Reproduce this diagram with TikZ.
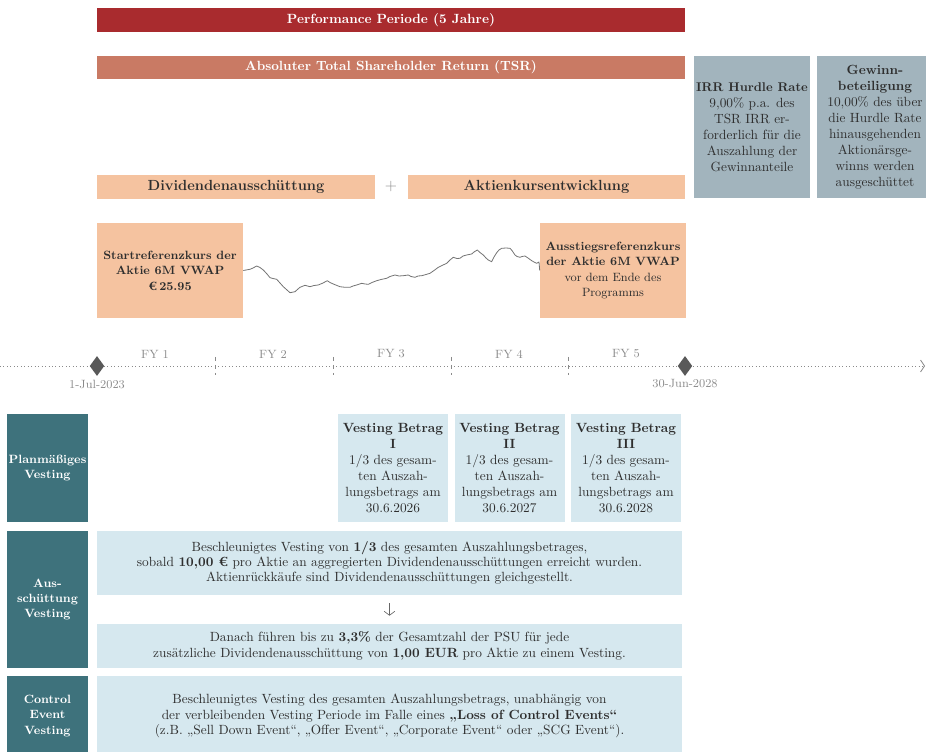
\documentclass[tikz,border=0pt]{standalone}
\usepackage{tikz}
\usetikzlibrary{positioning, shapes.geometric, arrows.meta}

\definecolor{perfred}{HTML}{A92B2E}
\definecolor{tsrred}{HTML}{C97A64}
\definecolor{peach}{HTML}{F5C3A0}
\definecolor{hurdlegrey}{HTML}{A2B4BD}
\definecolor{vestteal}{HTML}{3E727C}
\definecolor{vestblue}{HTML}{D6E8EF}
\definecolor{inktext}{HTML}{2E2E2E}
\definecolor{axisgrey}{HTML}{8A8A8A}

\begin{document}
\begin{tikzpicture}[
  x=0.75pt,
  y=-0.75pt,
  periodbar/.style={
    rectangle,
    inner sep=0pt,
    minimum width=441pt,
    minimum height=18pt,
    text=white,
    font=\fontsize{10}{11}\selectfont\bfseries,
  },
  partbox/.style={
    rectangle,
    fill=peach,
    inner sep=0pt,
    minimum width=208pt,
    minimum height=18pt,
    text=inktext,
    font=\fontsize{11}{12}\selectfont\bfseries,
  },
  pricebox/.style={
    rectangle,
    fill=peach,
    inner sep=0pt,
    minimum width=109.5pt,
    minimum height=71.25pt,
    align=center,
    text=inktext,
    font=\fontsize{9}{11.6}\selectfont,
  },
  hurdle/.style={
    rectangle,
    fill=hurdlegrey,
    inner sep=0pt,
    minimum width=87pt,
    minimum height=106.5pt,
    align=center,
    text=inktext,
    font=\fontsize{10}{12}\selectfont,
  },
  rowlabel/.style={
    rectangle,
    fill=vestteal,
    inner sep=0pt,
    minimum width=60.75pt,
    align=center,
    text=white,
    font=\fontsize{9}{11.5}\selectfont\bfseries,
  },
  tranche/.style={
    rectangle,
    fill=vestblue,
    inner sep=0pt,
    minimum width=82.5pt,
    minimum height=81pt,
    align=center,
    text=inktext,
    font=\fontsize{10}{12}\selectfont,
  },
  rulebox/.style={
    rectangle,
    fill=vestblue,
    inner sep=0pt,
    minimum width=438.75pt,
    align=center,
    text=inktext,
    font=\fontsize{10}{11.5}\selectfont,
  },
  milestone/.style={
    diamond,
    fill=black!65,
    inner sep=0pt,
    minimum width=11pt,
    minimum height=15pt,
  },
  axislabel/.style={
    text=axisgrey,
    font=\fontsize{9}{10}\selectfont,
  },
]
\useasboundingbox (0,0) rectangle (926,752);
\clip (0,0) rectangle (926,752);

% TSR
\node[periodbar, fill=perfred] (perf) at (391,20) {Performance Periode (5 Jahre)};
\node[periodbar, fill=tsrred, minimum height=17.25pt] (tsr) at (391,67.5) {Absoluter Total Shareholder Return (TSR)};
\node[partbox] (div) at (236,187) {Dividendenausschüttung};
\node[text=axisgrey, font=\large] (plus) at (391,187) {+};
\node[partbox] (kurs) at (546.5,187) {Aktienkursentwicklung};

\node[hurdle] (irr) at (752,127) {{\fontsize{9.5}{12}\selectfont\textbf{IRR Hurdle Rate}}\\9,00\% p.a. des\\TSR IRR er-\\forderlich für die\\Auszahlung der\\Gewinnanteile};
\node[hurdle] (gewinn) at (875,127) {\textbf{Gewinn-}\\\textbf{beteiligung}\\10,00\% des über\\die Hurdle Rate\\hinausgehenden\\Aktionärsge-\\winns werden\\ausgeschüttet};

% Kursverlauf
\node[pricebox] (start) at (170,270.5) {\textbf{Startreferenzkurs der}\\\textbf{Aktie 6M VWAP}\\\textbf{€\,25.95}};
\node[pricebox] (exit) at (613,270.5) {\textbf{Ausstiegsreferenzkurs}\\\textbf{der Aktie 6M VWAP}\\vor dem Ende des\\Programms};
\draw[black!55, line width=0.6pt, line join=round] (start.east) -- plot coordinates {
  (250,269.3) (253,268) (256.7,266) (260,267.5) (263.3,270) (267,274) (270,277.7)
  (273,278.5) (276.7,279.3) (280,283) (283.3,286.7) (287,290) (290,292.7)
  (295,291.7) (298,289) (300,287.3) (305,285.3) (310,286.7) (314,285.5)
  (318.3,285) (323,283) (327.3,280.7) (330,282.5) (333.3,284) (337,285.5)
  (340,286.7) (345,287.3) (350,287.3) (353,286) (356.7,285) (361.7,283.3)
  (365,284) (368.3,284.3) (372,282.5) (376.7,280.7) (381,279.5) (386.7,278.3)
  (390,276.5) (395,275) (399,276) (403.3,275.7) (408.3,275) (411,276.5)
  (415,277.3) (418,276) (421.7,275.7) (426,274.5) (430,273.3) (434,270.5)
  (438.3,267.3) (442,265.5) (446.7,263.3) (450,260) (453.3,257.3) (457,258.5)
  (460,258.3) (463,256) (466.7,255) (471.7,254) (474,252) (477.3,250)
  (480,252.5) (483.3,255) (486,258) (488.3,260) (491.7,261.7) (494,257)
  (496.7,252.7) (499,250) (501.7,248.3) (506,248) (510,248.3) (512,250.5)
  (515,255) (517,256.5) (520,257.3) (522,256.5) (525,256) (528,258)
  (531.7,260.7) (534,262) (536.7,263.3) (539,262)
} -- (exit.west);

% Zeitachse
\coordinate (tl0) at (0,366);
\coordinate (tl1) at (925,366);
\draw[axisgrey, dotted, line width=0.6pt, -{Straight Barb[length=3pt, width=9pt]}] (tl0) -- (tl1);
\foreach \x in {215,333,451,568}
  \draw[axisgrey, dashed, line width=0.4pt] (\x,357) -- (\x,375);
\foreach \i/\x in {1/155,2/273,3/391,4/509,5/626}
  \node[axislabel] (fy\i) at (\x,354) {FY \i};
\node[milestone] (begin) at (97,366) {};
\node[milestone] (end) at (685,366) {};
\node[axislabel] (begindate) at (97,384) {1-Jul-2023};
\node[axislabel] (enddate) at (685,384) {30-Jun-2028};

% Vesting
\node[rowlabel, minimum height=81pt] (plan) at (47.5,468) {Planmäßiges\\Vesting};
\node[tranche] (vb1) at (393,468) {\textbf{Vesting Betrag}\\\textbf{I}\\1/3 des gesam-\\ten Auszah-\\lungsbetrags am\\30.6.2026};
\node[tranche] (vb2) at (509.5,468) {\textbf{Vesting Betrag}\\\textbf{II}\\1/3 des gesam-\\ten Auszah-\\lungsbetrags am\\30.6.2027};
\node[tranche] (vb3) at (626,468) {\textbf{Vesting Betrag}\\\textbf{III}\\1/3 des gesam-\\ten Auszah-\\lungsbetrags am\\30.6.2028};

\node[rowlabel, minimum height=102.75pt] (aus) at (47.5,599.5) {Aus-\\schüttung\\Vesting};
\node[rulebox, minimum height=48pt] (acc) at (389.5,563) {Beschleunigtes Vesting von \textbf{1/3} des gesamten Auszahlungsbetrages,\\sobald \textbf{10,00 €} pro Aktie an aggregierten Dividendenausschüttungen erreicht wurden.\\Aktienrückkäufe sind Dividendenausschüttungen gleichgestellt.};
\node[rulebox, minimum height=33pt] (nxt) at (389.5,646) {Danach führen bis zu \textbf{3,3\%} der Gesamtzahl der PSU für jede\\zusätzliche Dividendenausschüttung von \textbf{1,00 EUR} pro Aktie zu einem Vesting.};
\draw[black!60, line width=0.5pt, shorten <=6pt, shorten >=6pt, -{Straight Barb[length=3pt, width=8pt]}] (acc) -- (nxt);

\node[rowlabel, minimum height=60pt] (ctrl) at (47.5,716) {Control\\Event\\Vesting};
\node[rulebox, minimum height=60pt] (loss) at (389.5,716) {Beschleunigtes Vesting des gesamten Auszahlungsbetrags, unabhängig von\\der verbleibenden Vesting Periode im Falle eines \textbf{„Loss of Control Events“}\\(z.B. „Sell Down Event“, „Offer Event“, „Corporate Event“ oder „SCG Event“).};
\end{tikzpicture}
\end{document}
